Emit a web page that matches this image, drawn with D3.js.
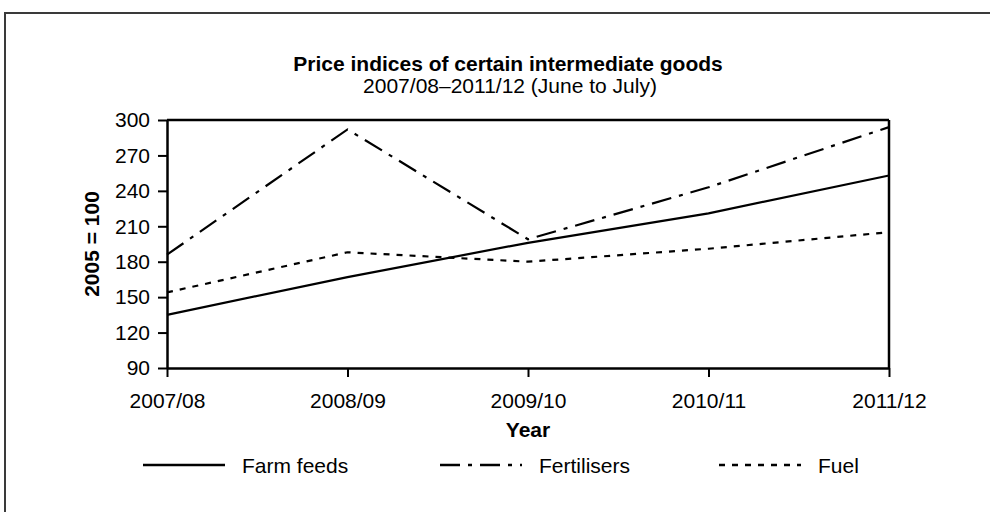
<!DOCTYPE html>
<html>
<head>
<meta charset="utf-8">
<script src="https://cdn.jsdelivr.net/npm/d3@7"></script>
<style>
  html, body { margin: 0; padding: 0; background: #fff; }
  svg { display: block; }
  text { font-family: "Liberation Sans", Arial, sans-serif; fill: #000; }
</style>
</head>
<body>
<svg id="chart" width="990" height="512"></svg>
<script>
const years = ["2007/08", "2008/09", "2009/10", "2010/11", "2011/12"];
const farmFeeds = [135, 167, 196, 221, 253];
const fertilisers = [186, 292, 199, 243, 294];
const fuel = [154, 188, 180, 191, 205];
const yTicks = [90, 120, 150, 180, 210, 240, 270, 300];
const seriesNames = ["Farm feeds", "Fertilisers", "Fuel"];
const titleText = "Price indices of certain intermediate goods";
const subtitleText = "2007/08\u20132011/12 (June to July)";
const xTitle = "Year";
const yTitle = "2005 = 100";

const svg = d3.select("#chart");
const W = 990, H = 512;
const plot = { left: 167, right: 889, top: 120, bottom: 368 };

// outer frame (right and bottom edges lie beyond the picture)
svg.append("rect")
  .attr("x", 5).attr("y", 13)
  .attr("width", 1100).attr("height", 600)
  .attr("fill", "none").attr("stroke", "#3a3a3a").attr("stroke-width", 2);

const x = d3.scalePoint().domain(years).range([plot.left, plot.right]).padding(0);
const y = d3.scaleLinear().domain([90, 300]).range([plot.bottom, plot.top]);

// title
svg.append("text").attr("x", 508).attr("y", 71)
  .attr("text-anchor", "middle").attr("font-size", 21).attr("font-weight", "bold")
  .text(titleText);
svg.append("text").attr("x", 510).attr("y", 93)
  .attr("text-anchor", "middle").attr("font-size", 21)
  .text(subtitleText);

// plot frame top and right
svg.append("line").attr("x1", plot.left).attr("x2", plot.right)
  .attr("y1", plot.top).attr("y2", plot.top)
  .attr("stroke", "#000").attr("stroke-width", 2.5);
svg.append("line").attr("x1", plot.right).attr("x2", plot.right)
  .attr("y1", plot.top).attr("y2", plot.bottom)
  .attr("stroke", "#000").attr("stroke-width", 2.5);

// y axis
const gy = svg.append("g").attr("transform", `translate(${plot.left},0)`)
  .call(d3.axisLeft(y).tickValues(yTicks).tickSize(9).tickSizeOuter(0).tickPadding(8));
gy.select(".domain").attr("stroke", "#000").attr("stroke-width", 2.5);
gy.selectAll(".tick line").attr("stroke", "#000").attr("stroke-width", 2);
gy.selectAll(".tick text").attr("font-size", 21)
  .attr("font-family", '"Liberation Sans", Arial, sans-serif').attr("fill", "#000");

// x axis
const gx = svg.append("g").attr("transform", `translate(0,${plot.bottom})`)
  .call(d3.axisBottom(x).tickSize(9).tickSizeOuter(0).tickPadding(8));
gx.select(".domain").attr("stroke", "#000").attr("stroke-width", 2.5);
gx.selectAll(".tick line").attr("stroke", "#000").attr("stroke-width", 2);
gx.selectAll(".tick text").attr("font-size", 21)
  .attr("font-family", '"Liberation Sans", Arial, sans-serif').attr("fill", "#000")
  .attr("y", 40).attr("dy", 0);

// axis titles
svg.append("text").attr("x", (plot.left + plot.right) / 2).attr("y", 437)
  .attr("text-anchor", "middle").attr("font-size", 21).attr("font-weight", "bold")
  .text(xTitle);
svg.append("text")
  .attr("transform", `translate(99,${(plot.top + plot.bottom) / 2}) rotate(-90)`)
  .attr("text-anchor", "middle").attr("font-size", 21).attr("font-weight", "bold")
  .text(yTitle);

// series
const dashes = ["none", "20,8,4,8", "6,7"];
const allSeries = [farmFeeds, fertilisers, fuel];
const line = d3.line().x((d, i) => x(years[i])).y(d => y(d));
allSeries.forEach((vals, k) => {
  svg.append("path").datum(vals)
    .attr("d", line)
    .attr("fill", "none").attr("stroke", "#000").attr("stroke-width", 2.2)
    .attr("stroke-dasharray", dashes[k]);
});

// legend
const legendX = [143, 440, 719];
const legendY = 465;
seriesNames.forEach((name, k) => {
  svg.append("line").attr("x1", legendX[k]).attr("x2", legendX[k] + 82)
    .attr("y1", legendY).attr("y2", legendY)
    .attr("stroke", "#000").attr("stroke-width", 2.5)
    .attr("stroke-dasharray", dashes[k]);
  svg.append("text").attr("x", legendX[k] + 99).attr("y", legendY + 8)
    .attr("font-size", 21).text(name);
});
</script>
</body>
</html>
